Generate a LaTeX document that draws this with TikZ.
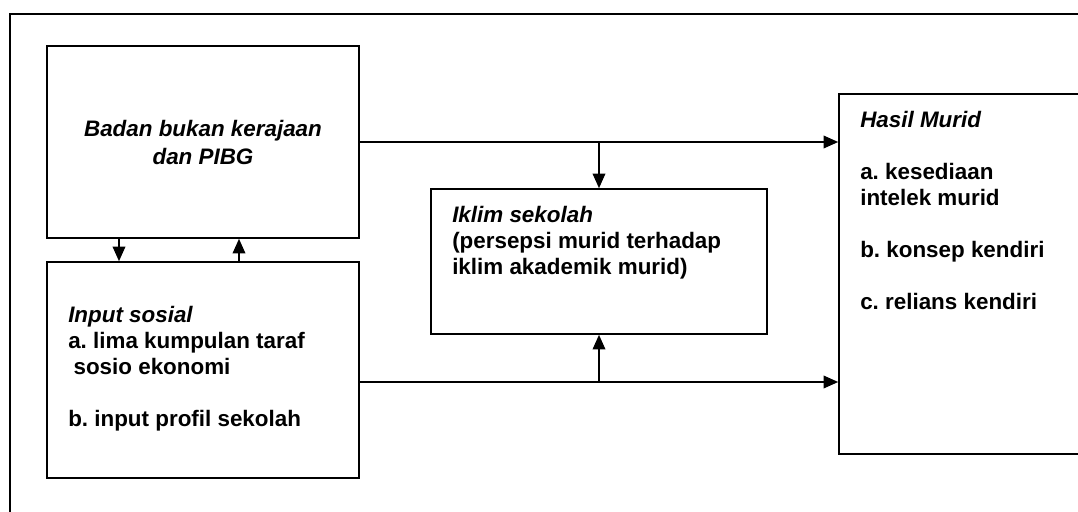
\documentclass[tikz,border=0pt]{standalone}
\usepackage{fontspec}
\setmainfont{Liberation Sans}
\usetikzlibrary{arrows.meta}
\usetikzlibrary{positioning}
\frenchspacing

\tikzset{
 kotak/.style={draw, black, line width=1.2pt, inner sep=0pt},
 teks/.style={anchor=north west, align=left, inner sep=0pt,
   font=\bfseries\fontsize{16.8}{19.5}\selectfont},
 panah/.style={black, line width=1.2pt, -{Triangle[length=11pt,width=9.5pt]}},
}

\begin{document}
\begin{tikzpicture}[x=0.75pt, y=-0.75pt]
\useasboundingbox (0,0) rectangle (1078,511);
% bingkai luar
\draw[line width=1.2pt] (1090,14) -- (10,14) -- (10,520);
% kotak-kotak
\node[kotak, minimum width=234pt, minimum height=144pt, align=center,
  font=\bfseries\itshape\fontsize{16.8}{21}\selectfont] (badan) at (203,142)
  {Badan bukan kerajaan\\dan PIBG};
\node[kotak, minimum width=234pt, minimum height=162pt] (input) at (203,370) {};
\node[kotak, minimum width=252pt, minimum height=108.75pt] (iklim) at (599,261.5) {};
\node[kotak, minimum width=225pt, minimum height=270pt] (hasil) at (989,274) {};
% teks
\node[teks] (inputteks) at (68,306) {\textit{Input sosial}\\
  a. lima kumpulan taraf\\
  \hspace*{4pt}sosio ekonomi\\[19.5pt]
  b. input profil sekolah};
\node[teks] (iklimteks) at (452,206) {\textit{Iklim sekolah}\\
  (persepsi murid terhadap\\
  iklim akademik murid)};
\node[teks] (hasilteks) at (860,111) {\textit{Hasil Murid}\\[19.5pt]
  a. kesediaan\\
  intelek murid\\[19.5pt]
  b. konsep kendiri\\[19.5pt]
  c. relians kendiri};
% anak panah
\draw[panah] ([xshift=-63pt]badan.south) -- ([xshift=-63pt]input.north);
\draw[panah] ([xshift=27pt]input.north) -- ([xshift=27pt]badan.south);
\draw[panah] (badan.east) -- (badan.east -| hasil.west);
\draw[panah] (badan.east -| iklim.north) -- (iklim.north);
\coordinate (bawah) at ([yshift=-9pt]input.east);
\draw[panah] (bawah) -- (bawah -| hasil.west);
\draw[panah] (bawah -| iklim.south) -- (iklim.south);
\end{tikzpicture}
\end{document}
